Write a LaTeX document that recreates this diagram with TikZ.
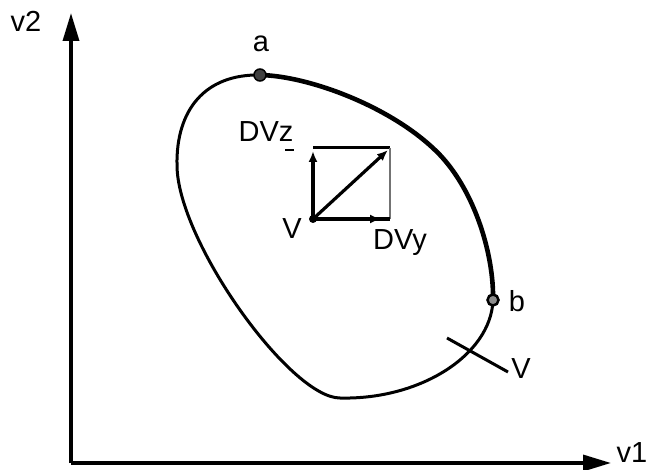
\documentclass[tikz,border=0pt]{standalone}
\usepackage{fontspec}
\setmainfont{Liberation Sans}
\usetikzlibrary{arrows.meta}
\begin{document}
\begin{tikzpicture}[x=1pt,y=-1pt,
  lbl/.style={inner sep=0pt,font=\fontsize{29}{31}\selectfont},
  axis/.style={line width=3.4pt,-{Triangle[length=28pt,width=16pt]}},
  vec/.style={line width=3.2pt,-{Latex[length=11pt,width=9pt]}},
  thin curve/.style={line width=3pt},
  thick curve/.style={line width=4.6pt},
  dot/.style={circle,inner sep=0pt,minimum size=12pt}]
\useasboundingbox (0,0) rectangle (655,470);
% axes
\coordinate (O) at (71,463);
\coordinate (Ytip) at (71,13);
\coordinate (Xtip) at (611,463);
\draw[axis] (O) -- (Ytip);
\draw[axis] (O) -- (Xtip);
\node[lbl] (v2) at (26,21) {v2};
\node[lbl] (v1) at (632,453) {v1};
% curve points
\coordinate (a) at (260,75);
\coordinate (P) at (440,155);
\coordinate (b) at (493,300);
\coordinate (Q) at (340,398);
\coordinate (R) at (177,165);
\draw[thick curve,line cap=round] (a) .. controls (310,76) and (395,108) .. (P)
  .. controls (475,192) and (494,255) .. (b);
\draw[thin curve,line cap=round] (b) .. controls (491,355) and (420,400) .. (Q)
  .. controls (290,398) and (177,240) .. (R)
  .. controls (176,110) and (205,74) .. (a);
% tick on curve
\coordinate (t1) at (447,338);
\coordinate (t2) at (508,372);
\draw[line width=3pt] (t1) -- (t2);
\node[lbl] (Vlab) at (521,369) {V};
% points a, b
\node[dot,fill=black!75,draw=black,line width=1.5pt] (pa) at (a) {};
\node[dot,fill=black!45,draw=black,line width=2.5pt,minimum size=11pt] (pb) at (b) {};
\node[lbl] (alab) at (261,44) {a};
\node[lbl] (blab) at (517,301) {b};
% square
\coordinate (V) at (313,219);
\coordinate (TL) at (313,148);
\coordinate (TR) at (390,148);
\coordinate (BR) at (390,219);
\draw[line width=3pt] (TL) -- (TR);
\draw[line width=2.4pt,black!55] (TR) -- (BR);
\draw[line width=3.2pt] (V) -- (BR);
\draw[vec] (V) -- (313,151);
\draw[vec] (V) -- (388,150);
\draw[vec] (V) -- (381,219);
\fill (V) circle (4pt);
\node[lbl] (Vsq) at (292,229) {V};
\node[lbl] (dvz) at (266,132) {DVz};
\coordinate (u1) at (285,150);
\coordinate (u2) at (294,150);
\draw[line width=2.4pt] (u1) -- (u2);
\node[lbl] (dvy) at (400,243) {DVy};
\end{tikzpicture}
\end{document}
